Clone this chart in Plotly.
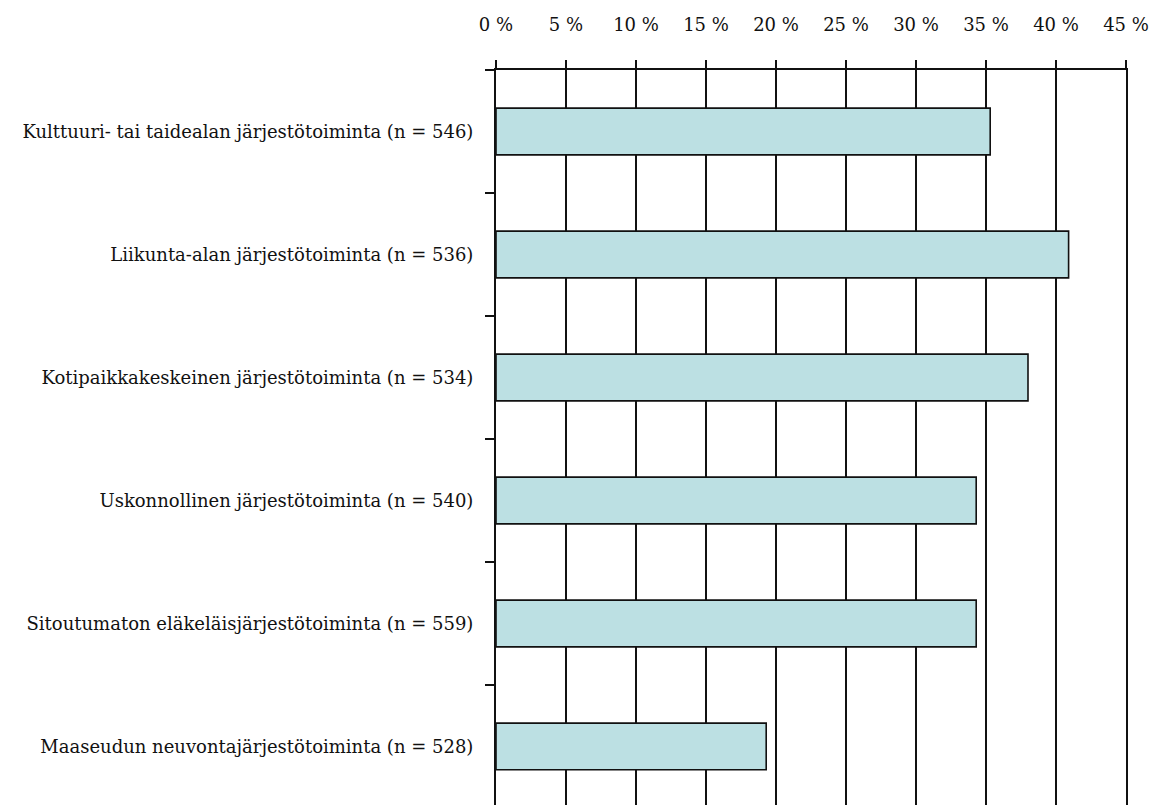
import plotly.graph_objects as go

# Share of respondents per type of association activity (%)
categories = [
    "Kulttuuri- tai taidealan järjestötoiminta (n = 546)",
    "Liikunta-alan järjestötoiminta (n = 536)",
    "Kotipaikkakeskeinen järjestötoiminta (n = 534)",
    "Uskonnollinen järjestötoiminta (n = 540)",
    "Sitoutumaton eläkeläisjärjestötoiminta (n = 559)",
    "Maaseudun neuvontajärjestötoiminta (n = 528)",
]
values = [35.3, 40.9, 38.0, 34.3, 34.3, 19.3]
tick_values = [0, 5, 10, 15, 20, 25, 30, 35, 40, 45]
tick_labels = ["0 %", "5 %", "10 %", "15 %", "20 %", "25 %", "30 %", "35 %", "40 %", "45 %"]

FONT = "DejaVu Serif"

fig = go.Figure(
    go.Bar(
        x=values,
        y=categories,
        orientation="h",
        width=0.38,
        marker=dict(color="#BCE0E3", line=dict(color="#111111", width=1.6)),
        hoverinfo="x+y",
    )
)

fig.update_layout(
    width=1157,
    height=805,
    margin=dict(l=496, r=31, t=70, b=0),
    paper_bgcolor="white",
    plot_bgcolor="white",
    showlegend=False,
    font=dict(family=FONT, size=18, color="#111111"),
    bargap=0.62,
)

fig.update_xaxes(
    side="top",
    range=[0, 45],
    tickvals=tick_values,
    ticktext=tick_labels,
    ticks="outside",
    ticklen=8,
    tickwidth=1.6,
    tickcolor="#111111",
    showline=True,
    linecolor="#111111",
    linewidth=2,
    showgrid=True,
    gridcolor="#111111",
    gridwidth=1.6,
    zeroline=False,
    tickfont=dict(family=FONT, size=18),
    ticklabelstandoff=22,
)

fig.update_yaxes(
    type="category",
    categoryorder="array",
    categoryarray=categories,
    range=[5.476, -0.5],
    tickson="boundaries",
    ticks="outside",
    ticklen=9,
    tickwidth=1.6,
    tickcolor="#111111",
    showline=True,
    linecolor="#111111",
    linewidth=2,
    mirror=True,
    showgrid=False,
    zeroline=False,
    tickfont=dict(family=FONT, size=18),
    ticklabelstandoff=17,
)

fig.write_html("out.html")
